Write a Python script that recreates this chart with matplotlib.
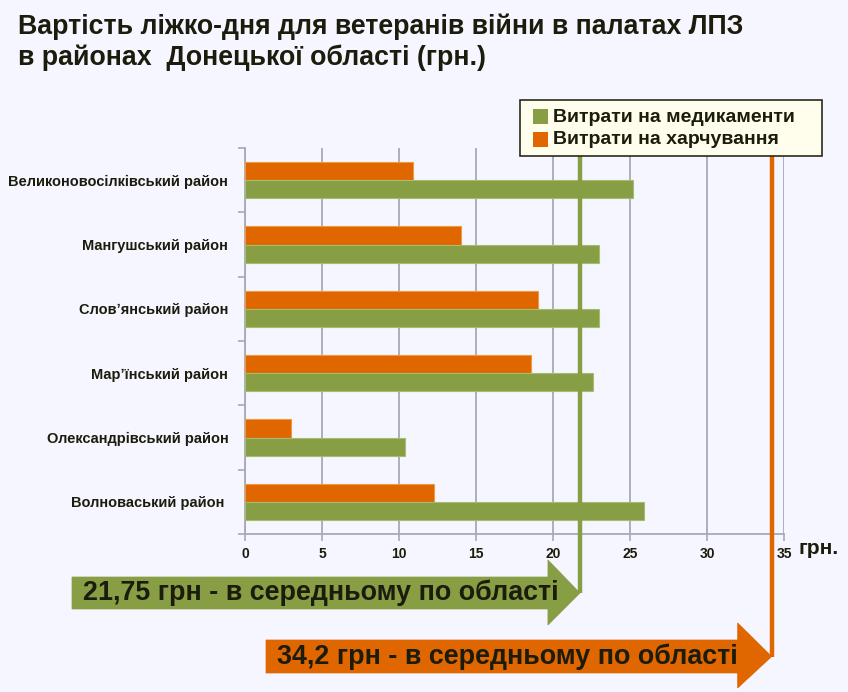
import matplotlib
matplotlib.use("Agg")
import matplotlib.pyplot as plt
from matplotlib.patches import Polygon, Rectangle
from matplotlib.lines import Line2D
import matplotlib.transforms as mtransforms

plt.rcParams['font.family'] = ['Liberation Sans', 'DejaVu Sans']

# ---- data ----
districts = ["Великоновосілківський район", "Мангушський район", "Слов\u02bcянський район",
             "Мар\u02bcїнський район", "Олександрівський район", "Волноваський район "]
food = [10.9, 14.0, 19.0, 18.6, 3.0, 12.3]
medicine = [25.2, 23.0, 23.0, 22.6, 10.4, 25.9]
avg_medicine = 21.75
avg_food = 34.2
xticks = [0, 5, 10, 15, 20, 25, 30, 35]
legend_labels = ["Витрати на медикаменти", "Витрати на харчування"]
title = "Вартість ліжко-дня для ветеранів війни в палатах ЛПЗ\nв районах  Донецької області (грн.)"
avg_med_text = "21,75 грн - в середньому по області"
avg_food_text = "34,2 грн - в середньому по області"

GREEN = "#879e45"
ORANGE = "#e06600"
BG = "#f5f6ff"
GRID = "#a8a8b8"
TXT = "#1c1c0c"

W, H = 848, 692
fig = plt.figure(figsize=(W / 100, H / 100), dpi=100, facecolor=BG)

def fx(px):
    return px / W

def fy(py):
    return 1 - py / H

ax = fig.add_axes([fx(245), fy(534), fx(784) - fx(245), fy(148) - fy(534)])
ax.set_facecolor(BG)

n = len(districts)
ypos = [n - 1 - i for i in range(n)]
bh = 0.28
ax.barh([y + bh / 2 for y in ypos], food, height=bh, color=ORANGE,
        edgecolor="#f09a40", linewidth=0.8, zorder=3)
ax.barh([y - bh / 2 for y in ypos], medicine, height=bh, color=GREEN,
        edgecolor="#a8bc70", linewidth=0.8, zorder=3)

ax.set_xlim(0, 35)
ax.set_ylim(-0.5, n - 0.5)
ax.set_xticks(xticks)
ax.set_xticklabels([str(t) for t in xticks], fontsize=10, fontweight='bold', color=TXT)
ax.set_yticks(ypos)
ax.set_yticklabels(districts, fontsize=10.5, fontweight='bold', color=TXT)
ax.tick_params(axis='y', length=0, pad=12)
ax.tick_params(axis='x', length=5, color=GRID, width=1.2, pad=4)
# category boundary ticks
ax.set_yticks([y - 0.5 for y in range(n + 1)], minor=True)
ax.tick_params(axis='y', which='minor', length=5, color=GRID, width=1.2)
ax.grid(axis='x', color=GRID, linewidth=1.3, zorder=0)
for s in ['top', 'right']:
    ax.spines[s].set_visible(False)
for s in ['left', 'bottom']:
    ax.spines[s].set_color(GRID)
    ax.spines[s].set_linewidth(1.3)

fig.text(fx(799), fy(549), "грн.", fontsize=15, fontweight='bold', color=TXT,
         ha='left', va='center')

# title
fig.text(fx(18), fy(13), title, fontsize=19.3, fontweight='bold', color=TXT,
         ha='left', va='top', linespacing=1.25)

# average lines and arrows
fig.canvas.draw()
blend = mtransforms.blended_transform_factory(ax.transData, fig.transFigure)

def tip_px(v):
    return ax.transData.transform((v, 0))[0]

def arrow(v, left, body_top, body_bot, head_top, head_bot, base_x_off, color, text):
    tx = tip_px(v)
    cy = (body_top + body_bot) / 2
    bx = tx - base_x_off
    pts = [(left, body_top), (bx, body_top), (bx, head_top), (tx, cy),
           (bx, head_bot), (bx, body_bot), (left, body_bot)]
    pts = [(fx(x), fy(y)) for x, y in pts]
    fig.patches.append(Polygon(pts, closed=True, transform=fig.transFigure,
                               facecolor=color, edgecolor=color, linewidth=0.5, zorder=5))
    fig.text(fx(left + 11), fy(cy), text, fontsize=19.4, fontweight='bold', color=TXT,
             ha='left', va='center', zorder=6)
    return cy

cy1 = arrow(avg_medicine, 72, 577, 609, 560, 625, 32, GREEN, avg_med_text)
cy2 = arrow(avg_food, 266, 640, 673, 623, 688, 34, ORANGE, avg_food_text)

fig.lines.append(Line2D([avg_medicine, avg_medicine], [fy(100), fy(cy1)], transform=blend,
                        color=GREEN, linewidth=3.2, zorder=4, solid_capstyle='butt'))
fig.lines.append(Line2D([avg_food, avg_food], [fy(100), fy(cy2)], transform=blend,
                        color=ORANGE, linewidth=3.2, zorder=4, solid_capstyle='butt'))

# legend box
lx0, ly0, lx1, ly1 = 520, 100, 822, 156
fig.patches.append(Rectangle((fx(lx0), fy(ly1)), fx(lx1) - fx(lx0), fy(ly0) - fy(ly1),
                             transform=fig.transFigure, facecolor="#fffdec",
                             edgecolor="#2a2a1a", linewidth=1.2, zorder=7))
for i, (lab, col) in enumerate(zip(legend_labels, [GREEN, ORANGE])):
    cy = 117 + i * 23
    fig.patches.append(Rectangle((fx(533), fy(cy + 7)), fx(15), fy(0) - fy(15),
                                 transform=fig.transFigure, facecolor=col,
                                 edgecolor='none', zorder=8))
    fig.text(fx(553), fy(cy), lab, fontsize=14, fontweight='bold', color=TXT,
             ha='left', va='center', zorder=9)

fig.savefig("out.png", dpi=100, facecolor=BG)
